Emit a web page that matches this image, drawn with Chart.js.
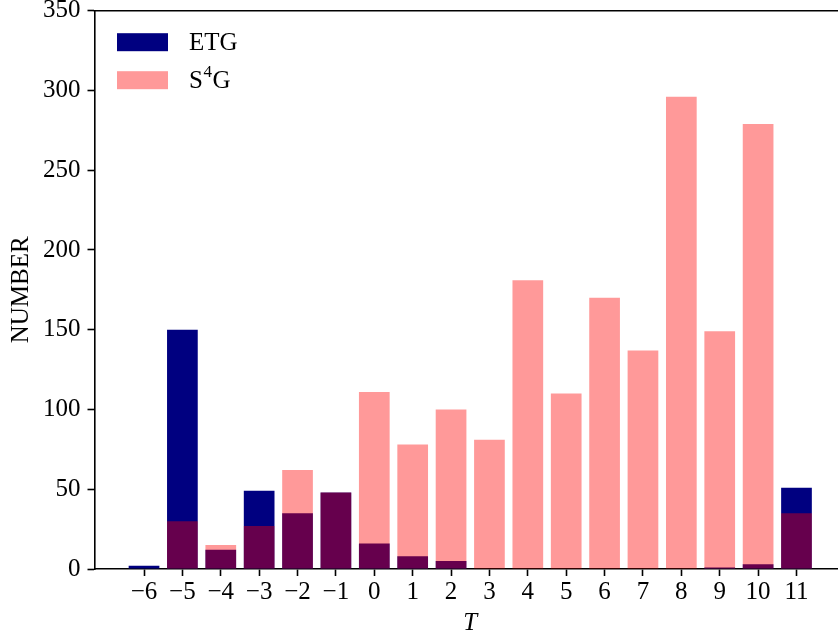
<!DOCTYPE html>
<html>
<head>
<meta charset="utf-8">
<script src="https://cdn.jsdelivr.net/npm/chart.js@4"></script>
<style>
  html, body { margin: 0; padding: 0; background: #fff; overflow: hidden; }
  #wrap { width: 846px; height: 638px; }
</style>
</head>
<body>
<div id="wrap"><canvas id="chart" width="846" height="638"></canvas></div>
<script>
// ================= DATOS =================
const tTypes = [-6, -5, -4, -3, -2, -1, 0, 1, 2, 3, 4, 5, 6, 7, 8, 9, 10, 11];
const etgCounts = [2, 150, 12, 49, 35, 48, 16, 8, 5, 0, 0, 0, 0, 0, 0, 1, 3, 51];
const s4gCounts = [0, 30, 15, 27, 62, 48, 111, 78, 100, 81, 181, 110, 170, 137, 296, 149, 279, 35];
const yTicks = [0, 50, 100, 150, 200, 250, 300, 350];

const FONT = '"Liberation Serif", "Times New Roman", serif';
const FONT_SIZE = 25;
const ETG_COLOR = '#000080';
const S4G_COLOR = 'rgba(255, 0, 0, 0.4)';

// ================= PLUGINS =================
// spine superior (el derecho queda fuera del recorte)
const topSpine = {
    id: 'topSpine',
    afterDraw(chart) {
        const { ctx, chartArea } = chart;
        ctx.save();
        ctx.strokeStyle = '#000';
        ctx.lineWidth = 1.6;
        ctx.beginPath();
        ctx.moveTo(chartArea.left - 0.8, chartArea.top);
        ctx.lineTo(chartArea.right, chartArea.top);
        ctx.stroke();
        ctx.restore();
    }
};

// leyenda dentro del área, estilo matplotlib
const innerLegend = {
    id: 'innerLegend',
    afterDraw(chart) {
        const { ctx, chartArea } = chart;
        const x0 = chartArea.left + 22.5;
        const y0 = chartArea.top + 22.5;
        const rowGap = 38;
        ctx.save();
        ctx.textBaseline = 'middle';
        ctx.textAlign = 'left';

        // ETG
        ctx.fillStyle = ETG_COLOR;
        ctx.fillRect(x0, y0, 51, 18);
        ctx.fillStyle = '#000';
        ctx.font = FONT_SIZE + 'px ' + FONT;
        ctx.fillText('ETG', x0 + 72, y0 + 10);

        // S4G
        const y1 = y0 + rowGap;
        ctx.fillStyle = S4G_COLOR;
        ctx.fillRect(x0, y1, 51, 18);
        ctx.fillStyle = '#000';
        let tx = x0 + 72;
        ctx.font = FONT_SIZE + 'px ' + FONT;
        ctx.fillText('S', tx, y1 + 10);
        tx += ctx.measureText('S').width;
        ctx.font = '17px ' + FONT;
        ctx.fillText('4', tx + 0.5, y1 + 1);
        tx += ctx.measureText('4').width + 1;
        ctx.font = FONT_SIZE + 'px ' + FONT;
        ctx.fillText('G', tx, y1 + 10);
        ctx.restore();
    }
};

// ================= GRÁFICO =================
const ctx = document.getElementById('chart');

new Chart(ctx, {
    type: 'bar',
    data: {
        datasets: [
            {
                label: 'ETG',
                data: tTypes.map((t, i) => ({ x: t, y: etgCounts[i] })),
                backgroundColor: ETG_COLOR,
                order: 1
            },
            {
                label: 'S⁴G',
                data: tTypes.map((t, i) => ({ x: t, y: s4gCounts[i] })),
                backgroundColor: S4G_COLOR,
                order: 0
            }
        ]
    },
    options: {
        responsive: false,
        animation: false,
        devicePixelRatio: 1,
        layout: { padding: { top: 10.7, left: 0, right: 0, bottom: 0 } },
        datasets: {
            bar: {
                grouped: false,
                categoryPercentage: 0.8,
                barPercentage: 1.0,
                borderWidth: 0
            }
        },
        plugins: {
            legend: { display: false },
            tooltip: { enabled: false }
        },
        scales: {
            x: {
                type: 'linear',
                min: -7.29,
                max: 12.29,
                offset: false,
                afterBuildTicks: s => { s.ticks = tTypes.map(v => ({ value: v })); },
                afterFit: s => {
                    s.height = 69;
                    s.paddingLeft = 0;
                    s.paddingRight = 0;
                },
                grid: {
                    display: true,
                    drawOnChartArea: false,
                    drawTicks: true,
                    tickLength: 7,
                    tickWidth: 1.6,
                    tickColor: '#000',
                    offset: false
                },
                border: { display: true, color: '#000', width: 1.6 },
                ticks: {
                    autoSkip: false,
                    maxRotation: 0,
                    padding: 1,
                    color: '#000',
                    font: { family: FONT, size: FONT_SIZE },
                    callback: v => String(v).replace('-', '\u2212')
                },
                title: {
                    display: true,
                    text: 'T',
                    color: '#000',
                    padding: 0,
                    font: { family: FONT, size: FONT_SIZE, style: 'italic' }
                }
            },
            y: {
                min: 0,
                max: 350,
                afterBuildTicks: s => { s.ticks = yTicks.map(v => ({ value: v })); },
                afterFit: s => {
                    s.width = 94.5;
                    s.paddingTop = 0;
                    s.paddingBottom = 0;
                },
                grid: {
                    display: true,
                    drawOnChartArea: false,
                    drawTicks: true,
                    tickLength: 7,
                    tickWidth: 1.6,
                    tickColor: '#000'
                },
                border: { display: true, color: '#000', width: 1.6 },
                ticks: {
                    padding: 7,
                    color: '#000',
                    font: { family: FONT, size: FONT_SIZE }
                },
                title: {
                    display: true,
                    text: 'NUMBER',
                    color: '#000',
                    padding: { top: 6, bottom: 0 },
                    font: { family: FONT, size: FONT_SIZE }
                }
            }
        }
    },
    plugins: [topSpine, innerLegend]
});
</script>
</body>
</html>
